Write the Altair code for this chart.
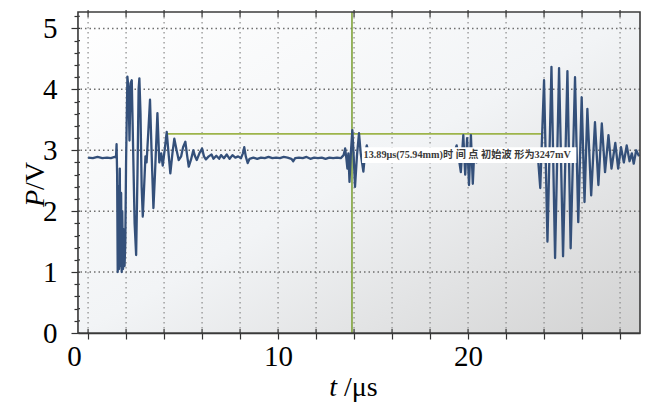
import altair as alt
import pandas as pd

# ---- waveform (t in µs, P in V) ----
T = [0.00, 0.25, 0.50, 0.75, 1.00, 1.20, 1.40, 1.47, 1.50, 1.53,
     1.56, 1.60, 1.63, 1.67, 1.70, 1.74, 1.77, 1.80, 1.84, 1.88,
     1.92, 1.96, 2.00, 2.07, 2.13, 2.18, 2.24, 2.30, 2.36, 2.45,
     2.53, 2.60, 2.66, 2.70, 2.76, 2.82, 2.88, 2.95, 3.02, 3.08,
     3.17, 3.26, 3.35, 3.44, 3.52, 3.65, 3.75, 3.85, 3.93, 4.03,
     4.14, 4.25, 4.33, 4.44, 4.54, 4.66, 4.77, 4.90, 5.00, 5.12,
     5.22, 5.30, 5.42, 5.54, 5.63, 5.72, 5.86, 6.00, 6.10, 6.20,
     6.35, 6.50, 6.60, 6.75, 6.90, 7.00, 7.15, 7.30, 7.45, 7.60,
     7.75, 7.90, 8.05, 8.15, 8.22, 8.30, 8.40, 8.50, 8.70, 8.90,
     9.10, 9.30, 9.50, 9.70, 9.90, 10.10, 10.30, 10.50, 10.70, 10.80,
     10.90, 11.10, 11.30, 11.50, 11.70, 11.90, 12.10, 12.30, 12.50, 12.70,
     12.90, 13.10, 13.30, 13.45, 13.53, 13.60, 13.65, 13.70, 13.76, 13.84,
     13.91, 13.98, 14.05, 14.15, 14.26, 14.35, 14.49, 14.58, 14.67, 14.80,
     15.00, 15.30, 15.80, 16.30, 16.80, 17.30, 17.80, 18.30, 18.80, 19.20,
     19.40, 19.50, 19.62, 19.75, 19.85, 19.95, 20.05, 20.15, 20.25, 20.33,
     20.45, 20.60, 21.00, 21.50, 22.00, 22.50, 23.00, 23.40, 23.60, 23.70,
     23.80, 24.00, 24.18, 24.39, 24.58, 24.79, 25.00, 25.23, 25.40, 25.63,
     25.80, 25.98, 26.13, 26.28, 26.48, 26.68, 26.86, 27.04, 27.21, 27.39,
     27.55, 27.75, 27.90, 28.05, 28.20, 28.35, 28.50, 28.62, 28.72, 28.85,
     29.00]
P = [2.88, 2.87, 2.89, 2.87, 2.88, 2.87, 2.89, 2.88, 3.10, 2.60,
     1.00, 2.40, 1.05, 2.70, 1.10, 2.30, 1.00, 2.00, 1.05, 1.70,
     1.10, 1.50, 2.80, 4.21, 4.00, 3.16, 4.10, 4.15, 3.20, 1.80,
     1.28, 2.60, 4.00, 4.18, 3.60, 2.40, 1.91, 2.40, 2.90, 2.80,
     3.30, 3.83, 2.90, 2.05, 2.60, 3.61, 2.80, 2.95, 2.75, 3.00,
     3.30, 2.90, 2.62, 2.95, 3.19, 3.00, 2.84, 2.90, 3.05, 3.14,
     2.90, 2.73, 2.85, 3.00, 2.90, 2.84, 2.95, 3.03, 2.90, 2.85,
     2.90, 2.93, 2.86, 2.91, 2.86, 2.92, 2.87, 2.93, 2.86, 2.92,
     2.88, 2.90, 2.87, 2.95, 3.05, 2.90, 2.79, 2.86, 2.88, 2.86,
     2.88, 2.87, 2.89, 2.87, 2.88, 2.87, 2.89, 2.88, 2.86, 2.82,
     2.87, 2.88, 2.87, 2.89, 2.86, 2.88, 2.87, 2.88, 2.86, 2.88,
     2.87, 2.88, 2.87, 2.92, 3.03, 2.85, 2.70, 2.95, 2.48, 3.00,
     3.33, 2.90, 2.40, 2.90, 3.28, 2.95, 2.65, 2.95, 3.08, 2.90,
     2.86, 2.88, 2.87, 2.88, 2.87, 2.88, 2.87, 2.88, 2.87, 2.88,
     3.08, 2.90, 2.64, 3.25, 2.60, 3.20, 2.43, 3.25, 2.45, 3.00,
     2.80, 2.88, 2.87, 2.88, 2.87, 2.88, 2.87, 2.88, 2.95, 2.80,
     2.38, 4.15, 1.50, 4.37, 1.23, 4.35, 1.26, 4.30, 1.39, 4.20,
     1.82, 3.87, 2.15, 3.68, 2.26, 3.46, 2.43, 3.44, 2.64, 3.25,
     2.70, 3.12, 2.70, 3.05, 2.80, 3.08, 2.82, 2.95, 2.78, 3.00,
     2.90]

X_TICKS = [0, 2, 4, 6, 8, 10, 12, 14, 16, 18, 20, 22, 24, 26, 28]
Y_TICKS = [0.0, 0.2, 0.4, 0.6, 0.8, 1.0, 1.2, 1.4, 1.6, 1.8, 2.0, 2.2, 2.4,
           2.6, 2.8, 3.0, 3.2, 3.4, 3.6, 3.8, 4.0, 4.2, 4.4, 4.6, 4.8, 5.0, 5.2]
Y_GRID = [1, 2, 3, 4, 5]

CURSOR_T = [13.89]
LEVEL_V = [3.27]
LEVEL_T0, LEVEL_T1 = 4.14, 23.9
NOTE = "13.89μs(75.94mm)时 间 点 初始波 形为3247mV"

W, H = 562, 321
xs = alt.Scale(domain=[-0.53, 29.05], nice=False, zero=False)
ys = alt.Scale(domain=[0, 5.27], nice=False, zero=False)

INT_TEST = "abs(datum.value - round(datum.value)) < 0.01"
xaxis = alt.Axis(values=X_TICKS, title=None, grid=False,
                 labelExpr="datum.value % 10 == 0 ? datum.label : ''",
                 labelFont="Liberation Serif", labelFontSize=29, labelColor="black",
                 labelPadding=3, labelOverlap=False, labelFlush=False,
                 labelOffset={"condition": {"test": "datum.value == 0", "value": -14}, "value": 0},
                 tickSize=6, tickColor="#333", tickWidth=1.2,
                 domainColor="#333", domainWidth=1.5)
yaxis = alt.Axis(values=Y_TICKS, title=None, grid=False,
                 labelExpr=INT_TEST + " ? format(datum.value, 'd') : ''",
                 labelFont="Liberation Serif", labelFontSize=29, labelColor="black",
                 labelPadding=14, labelOverlap=False, labelFlush=False,
                 tickSize={"condition": {"test": INT_TEST, "value": 7}, "value": 4},
                 tickColor="#333", tickWidth=1.2,
                 domainColor="#333", domainWidth=1.5)

one = pd.DataFrame({"k": [0]})
wave = pd.DataFrame({"t": T, "p": P})

grad = alt.LinearGradient(gradient="linear", x1=0, y1=0, x2=1, y2=1,
                          stops=[alt.GradientStop(offset=0, color="#ffffff"),
                                 alt.GradientStop(offset=0.5, color="#f2f4f6"),
                                 alt.GradientStop(offset=1, color="#d2d2d2")])

bg = alt.Chart(one).mark_rect(color=grad).encode(
    x=alt.value(0), x2=alt.value(W), y=alt.value(0), y2=alt.value(H))

xgrid = alt.Chart(pd.DataFrame({"t": X_TICKS})).mark_rule(
    color="#8a8a8a", strokeDash=[1.5, 3.5], strokeWidth=1.2).encode(
    x=alt.X("t:Q", scale=xs, axis=xaxis))

ygrid = alt.Chart(pd.DataFrame({"p": Y_GRID})).mark_rule(
    color="#6f6f6f", strokeDash=[1.5, 3], strokeWidth=1.5).encode(
    y=alt.Y("p:Q", scale=ys, axis=yaxis))

vline = alt.Chart(pd.DataFrame({"t": CURSOR_T})).mark_rule(
    color="#7fa23a", strokeWidth=1.6).encode(
    x=alt.X("t:Q", scale=xs, axis=xaxis))

hline = alt.Chart(pd.DataFrame({"p": LEVEL_V, "t0": [LEVEL_T0], "t1": [LEVEL_T1]})).mark_rule(
    color="#9db44a", strokeWidth=1.8).encode(
    x=alt.X("t0:Q", scale=xs, axis=xaxis), x2="t1:Q",
    y=alt.Y("p:Q", scale=ys, axis=yaxis))

line = alt.Chart(wave).mark_line(color="#34507a", strokeWidth=2.3,
                                 strokeJoin="round").encode(
    x=alt.X("t:Q", scale=xs, axis=xaxis),
    y=alt.Y("p:Q", scale=ys, axis=yaxis),
    order="t:Q")

top_ticks = alt.Chart(pd.DataFrame({"t": X_TICKS})).mark_rule(
    color="#333", strokeWidth=1.2).encode(
    x=alt.X("t:Q", scale=xs, axis=xaxis), y=alt.value(-2), y2=alt.value(5))
bot_ticks = alt.Chart(pd.DataFrame({"t": X_TICKS})).mark_rule(
    color="#333", strokeWidth=1.2).encode(
    x=alt.X("t:Q", scale=xs, axis=xaxis), y=alt.value(H - 4), y2=alt.value(H))
y_in_ticks = alt.Chart(pd.DataFrame({"p": Y_TICKS})).mark_rule(
    color="#333", strokeWidth=1.2).encode(
    y=alt.Y("p:Q", scale=ys, axis=yaxis), x=alt.value(0), x2=alt.value(2))

note_box = alt.Chart(pd.DataFrame({"a": [14.42], "b": [25.7], "lo": [2.79], "hi": [3.05]})).mark_rect(
    color="white").encode(
    x=alt.X("a:Q", scale=xs, axis=xaxis), x2="b:Q",
    y=alt.Y("lo:Q", scale=ys, axis=yaxis), y2="hi:Q")
note_text = alt.Chart(pd.DataFrame({"a": [14.5], "m": [2.92], "s": [NOTE]})).mark_text(
    align="left", baseline="middle", font="Liberation Serif, Noto Sans CJK SC",
    fontSize=10.2, fontWeight="bold", color="#3a3a3a").encode(
    x=alt.X("a:Q", scale=xs, axis=xaxis), y=alt.Y("m:Q", scale=ys, axis=yaxis), text="s:N")

frame = alt.Chart(one).mark_rect(fillOpacity=0, stroke="#3c3c3c", strokeWidth=1.6).encode(
    x=alt.value(0), x2=alt.value(W), y=alt.value(0), y2=alt.value(H))

xt1 = alt.Chart(one).mark_text(text="t", align="right", baseline="alphabetic",
                               font="Liberation Serif", fontStyle="italic",
                               fontSize=28, color="black").encode(
    x=alt.value(259), y=alt.value(384))
xt2 = alt.Chart(one).mark_text(text="/μs", align="left", baseline="alphabetic",
                               font="Liberation Serif", fontSize=28, color="black").encode(
    x=alt.value(266), y=alt.value(384))
yt1 = alt.Chart(one).mark_text(text="P", align="right", baseline="middle", angle=270,
                               font="Liberation Serif", fontStyle="italic",
                               fontSize=28, color="black").encode(
    x=alt.value(-42), y=alt.value(178))
yt2 = alt.Chart(one).mark_text(text="/V", align="left", baseline="middle", angle=270,
                               font="Liberation Serif", fontSize=28, color="black").encode(
    x=alt.value(-42), y=alt.value(178))

chart = alt.layer(bg, xgrid, ygrid, hline, vline, line, note_box, note_text,
                  top_ticks, bot_ticks, y_in_ticks, frame, xt1, xt2, yt1, yt2).properties(
    width=W, height=H,
    autosize=alt.AutoSizeParams(type="none"),
    padding={"left": 70, "top": 4, "right": 2, "bottom": 70},
    background="white",
).configure_view(stroke=None)

chart.save("out.html", embed_options={"renderer": "svg", "actions": False})
